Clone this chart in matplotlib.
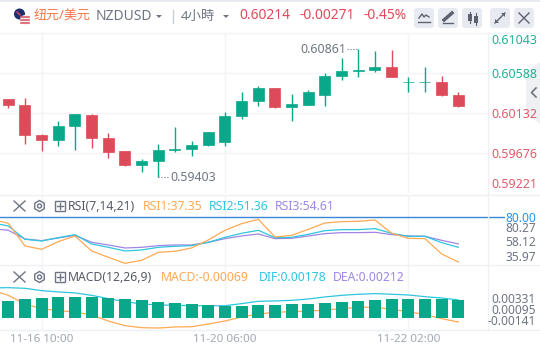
import numpy as np
import matplotlib
matplotlib.use("Agg")
import matplotlib.pyplot as plt
from matplotlib.patches import Circle, FancyBboxPatch, Polygon, RegularPolygon, Rectangle

plt.rcParams['font.family'] = ['Noto Sans', 'Noto Sans CJK SC', 'DejaVu Sans']

# candles (4h), oldest first
opens = [.60295, .60227, .59885, .59828, .59988, .60113, .59851, .59703, .59543, .59589,
         .59714, .59725, .59771, .59805, .60102, .60273, .60421, .60204, .60227, .60341,
         .60558, .60615, .60626, .60660, .60485, .60485, .60489, .60341]
closes = [.60227, .59885, .59828, .59988, .60124, .59851, .59691, .59543, .59589, .59714,
          .59725, .59771, .59919, .60102, .60273, .60421, .60204, .60238, .60375, .60558,
          .60615, .60626, .60660, .60546, .60489, .60489, .60341, .60214]
highs = [.60295, .60307, .59896, .60045, .60124, .60124, .59908, .59703, .59611, .59782,
         .59976, .59817, .59919, .60147, .60375, .60444, .60421, .60352, .60398, .60592,
         .60763, .60861, .60843, .60854, .60546, .60660, .60558, .60375]
lows = [.60197, .59782, .59703, .59760, .59714, .59737, .59623, .59532, .59463, .59403,
        .59691, .59646, .59760, .59760, .60067, .60216, .60193, .60045, .60227, .60216,
        .60512, .60546, .60603, .60546, .60375, .60375, .60330, .60204]

# indicators start one bar earlier, that bar is cut by the left edge
rsi1 = [78.09, 74.27, 52.63, 49.44, 56.76, 62.17, 47.85, 41.80, 36.07, 38.94, 46.58, 47.53,
        50.72, 58.36, 67.59, 73.95, 78.09, 61.22, 62.81, 68.54, 74.59, 75.86, 76.18, 77.45,
        64.72, 59.95, 59.63, 44.99, 37.35]
rsi2 = [74.90, 71.72, 59.00, 57.40, 60.58, 63.45, 54.53, 51.35, 47.85, 48.81, 51.35, 52.31,
        52.94, 56.13, 60.90, 64.72, 67.59, 60.58, 60.90, 63.77, 67.27, 68.22, 68.22, 69.18,
        64.72, 61.86, 61.86, 55.81, 51.36]
rsi3 = [69.18, 67.59, 59.31, 57.72, 60.26, 62.81, 56.13, 53.58, 50.72, 51.35, 52.94, 53.58,
        53.58, 56.13, 59.63, 62.17, 64.08, 59.63, 59.95, 62.17, 64.40, 65.36, 65.36, 65.68,
        63.45, 62.17, 61.86, 58.04, 54.61]
dif = [.00313, .00316, .00309, .00283, .00268, .00257, .00230, .00193, .00159, .00133, .00122,
       .00118, .00114, .00111, .00114, .00137, .00163, .00167, .00174, .00189, .00212, .00230,
       .00242, .00249, .00242, .00234, .00215, .00200, .00178]
macd = [.00290, .00230, .00133, .00081, .00058, .00043, .00010, -.00058, -.00110, -.00133, -.00137,
        -.00125, -.00122, -.00092, -.00058, -.00013, .00021, .00040, .00047, .00051, .00066, .00081,
        .00096, .00096, .00073, .00047, .00013, -.00032, -.00069]
bar_tops = [.00167, .00189, .00200, .00212, .00212, .00212, .00200, .00189, .00178, .00156,
            .00144, .00133, .00122, .00111, .00111, .00122, .00122, .00133, .00133, .00144,
            .00156, .00167, .00178, .00189, .00189, .00189, .00189, .00178]
bar_base = -.00024

price_ticks = [0.61043, 0.60588, 0.60132, 0.59676, 0.59221]
time_ticks = [2, 13, 24]
time_labels = ['11-16 10:00', '11-20 06:00', '11-22 02:00']

GREEN = '#0aa88a'
RED = '#dd4b5a'
ORANGE = '#ffa953'
CYAN = '#2ec6de'
PURPLE = '#a086e2'
GRID = '#f2f4f8'
GREY = '#6f7583'
W, H = 540, 352


def panel(top, bottom, right=488):
    ax = fig.add_axes([0, 1 - bottom / H, right / W, (bottom - top) / H])
    ax.set_xlim(-0.498, 28.78)
    for s in ax.spines.values():
        s.set_visible(False)
    ax.set_yticks([])
    ax.set_xticks([])
    for x in time_ticks:
        ax.axvline(x, color=GRID, lw=1, zorder=0)
    return ax


fig = plt.figure(figsize=(W / 100, H / 100), dpi=100, facecolor='white')

# main candle panel
ax = panel(33.3, 193.3)
ax.set_ylim(price_ticks[-1], price_ticks[0])
for p in price_ticks[1:-1]:
    ax.axhline(p, color=GRID, lw=1, zorder=0)
xs = np.arange(len(opens))
cols = [GREEN if c >= o else RED for o, c in zip(opens, closes)]
ax.vlines(xs, lows, highs, colors=cols, lw=1, zorder=2)
ax.bar(xs, np.array(closes) - np.array(opens), bottom=opens, width=0.66, color=cols,
       edgecolor=cols, lw=0.5, zorder=3)
ax.plot([9, 9.65], [min(lows), min(lows)], color=GREY, lw=0.8, ls=':', zorder=2)
ax.text(9.75, min(lows) - 0.00004, f'{min(lows):.5f}', color=GREY, fontsize=8.9, va='center')
ax.plot([20.35, 21], [max(highs), max(highs)], color=GREY, lw=0.8, ls=':', zorder=2)
ax.text(20.25, max(highs) + 0.00001, f'{max(highs):.5f}', color=GREY, fontsize=8.9, va='center', ha='right')

# RSI
ax_rsi = panel(195, 265.3, right=505)
ax_rsi.set_xlim(-0.498, 29.8)
ax_rsi.set_ylim(34.17, 101.3)
xs_ind = np.arange(-1, len(opens))
ax_rsi.plot(xs_ind, rsi3, color=PURPLE, lw=0.9)
ax_rsi.plot(xs_ind, rsi2, color=CYAN, lw=0.9)
ax_rsi.plot(xs_ind, rsi1, color=ORANGE, lw=0.9)
ax_rsi.axhline(80, color='#3d85d8', lw=1)

# MACD
ax_m = panel(265.3, 330)
ax_m.set_ylim(-.00159, .00567)
ax_m.plot(xs_ind, macd, color=ORANGE, lw=0.9, zorder=2)
ax_m.plot(xs_ind, dif, color=CYAN, lw=0.9, zorder=2)
ax_m.bar(xs, np.array(bar_tops) - bar_base, bottom=bar_base, width=0.72, color=GREEN, zorder=3)
ax_m.set_xticks(time_ticks)
ax_m.set_xticklabels(time_labels, fontsize=8.4, color='#a2a7b4')
ax_m.tick_params(axis='x', length=0, pad=3)

# header, legends and right scale, in pixels
ov = fig.add_axes([0, 0, 1, 1], zorder=10)
ov.set_xlim(0, W)
ov.set_ylim(H, 0)
ov.axis('off')
ov.patch.set_alpha(0)

ov.add_patch(Rectangle((0, 0), W, 2, color='#e6e9ef', lw=0))
ov.plot([0, W], [33, 33], color=GRID, lw=1)
for y in [195, 265.3, 330]:
    ov.plot([0, W], [y, y], color='#eef0f4', lw=1)
ov.plot([488, 488], [33, 330], color='#eef0f4', lw=1)

# flag icon
ov.add_patch(Circle((19.5, 14), 5.5, color='#1d2f6f', lw=0))
ov.add_patch(Circle((25, 20), 5, color='#f2f2f2', lw=0))
for y in [16.5, 19.5, 22.5]:
    ov.plot([20.8, 29.2], [y, y], color='#dd5a66', lw=1.2)
ov.plot([17, 20], [12, 15], color='#dd4b5a', lw=1)

ov.text(34, 16, '纽元/美元', color='#f4784a', fontsize=9.4, va='center')
ov.text(96, 16.5, 'NZDUSD', color=GREY, fontsize=10, va='center')
ov.add_patch(Polygon([[156, 15], [162, 15], [159, 18]], color=GREY, lw=0))
ov.plot([172.5, 172.5], [10, 23], color='#c8ccd4', lw=1)
ov.text(181, 16, '4小時', color=GREY, fontsize=9.6, va='center')
ov.add_patch(Polygon([[223, 15], [229, 15], [226, 18]], color=GREY, lw=0))
ov.text(239, 15.5, '0.60214', color=RED, fontsize=10, va='center', fontweight='bold')
ov.text(299, 15.5, '-0.00271', color=RED, fontsize=10, va='center', fontweight='bold')
ov.text(364, 15.5, '-0.45%', color=RED, fontsize=10, va='center', fontweight='bold')

# toolbar buttons
for cx in [424, 448, 472, 500, 524]:
    ov.add_patch(FancyBboxPatch((cx - 8, 10), 16, 16, boxstyle='round,pad=2,rounding_size=3',
                                fc='#e7eaf1', ec='none'))
ic = '#5c6270'
ov.plot([419, 422, 424, 426, 429], [18, 14, 17, 15, 17], color=ic, lw=1)
ov.plot([418, 430], [22, 22], color=ic, lw=1)
ov.plot([444, 452], [20, 13], color=ic, lw=2.5)
ov.plot([443, 453], [23, 23], color=ic, lw=1)
ov.add_patch(Rectangle((468, 14), 4, 7, color=ic, lw=0))
ov.add_patch(Rectangle((474, 16), 4, 7, color=ic, lw=0))
ov.plot([470, 470], [12, 23], color=ic, lw=0.8)
ov.plot([476, 476], [13, 25], color=ic, lw=0.8)
ov.plot([495, 505], [23, 13], color=ic, lw=1)
ov.add_patch(Polygon([[501, 13], [505, 13], [505, 17]], color=ic, lw=0))
ov.add_patch(Polygon([[495, 19], [495, 23], [499, 23]], color=ic, lw=0))
ov.plot([519, 529], [13, 23], color=ic, lw=1)
ov.plot([519, 529], [23, 13], color=ic, lw=1)

# side tab
ov.add_patch(Polygon([[540, 62], [526, 72], [526, 114], [540, 124]], color='#eef0f4', lw=0))
ov.plot([536, 531.5, 536], [88, 92.5, 97], color=GREY, lw=1.2)

# right price scale
scale_y = [41, 74, 115, 155, 185]
scale_cols = [GREEN, GREEN, RED, RED, RED]
for p, y, c in zip(price_ticks, scale_y, scale_cols):
    ov.text(537, y, f'{p:.5f}', color=c, fontsize=9, ha='right', va='center', alpha=0.9)
for t, y, c in [('80.00', 218, '#2196f3'), ('80.27', 229, GREY), ('58.12', 242.5, GREY),
                ('35.97', 257.5, GREY), ('0.00331', 299.5, GREY), ('0.00095', 310.5, GREY),
                ('-0.00141', 321.5, GREY)]:
    ov.text(536, y, t, color=c, fontsize=8.6, ha='right', va='center')


def legend_icons(y):
    ov.plot([14, 25], [y - 5, y + 5], color=GREY, lw=1)
    ov.plot([14, 25], [y + 5, y - 5], color=GREY, lw=1)
    ov.add_patch(RegularPolygon((39.5, y), 6, radius=5.5, fc='none', ec=GREY, lw=1))
    ov.add_patch(Circle((39.5, y), 2, fc='none', ec=GREY, lw=1))
    ov.add_patch(Rectangle((54.5, y - 5), 10, 10, fc='none', ec=GREY, lw=1))
    ov.plot([56.5, 62.5], [y, y], color=GREY, lw=1)
    ov.plot([59.5, 59.5], [y - 3, y + 3], color=GREY, lw=1)


legend_icons(206)
ov.text(68, 206.5, 'RSI(7,14,21)', color='#555a66', fontsize=8.8, va='center')
ov.text(142.5, 206.5, 'RSI1:37.35', color=ORANGE, fontsize=8.8, va='center')
ov.text(209, 206.5, 'RSI2:51.36', color=CYAN, fontsize=8.8, va='center')
ov.text(275, 206.5, 'RSI3:54.61', color=PURPLE, fontsize=8.8, va='center')

legend_icons(277)
ov.text(68, 277.5, 'MACD(12,26,9)', color='#555a66', fontsize=8.8, va='center')
ov.text(161, 277.5, 'MACD:-0.00069', color=ORANGE, fontsize=8.8, va='center')
ov.text(259, 277.5, 'DIF:0.00178', color=CYAN, fontsize=8.8, va='center')
ov.text(333, 277.5, 'DEA:0.00212', color=PURPLE, fontsize=8.8, va='center')

fig.savefig('out.png', dpi=100)
